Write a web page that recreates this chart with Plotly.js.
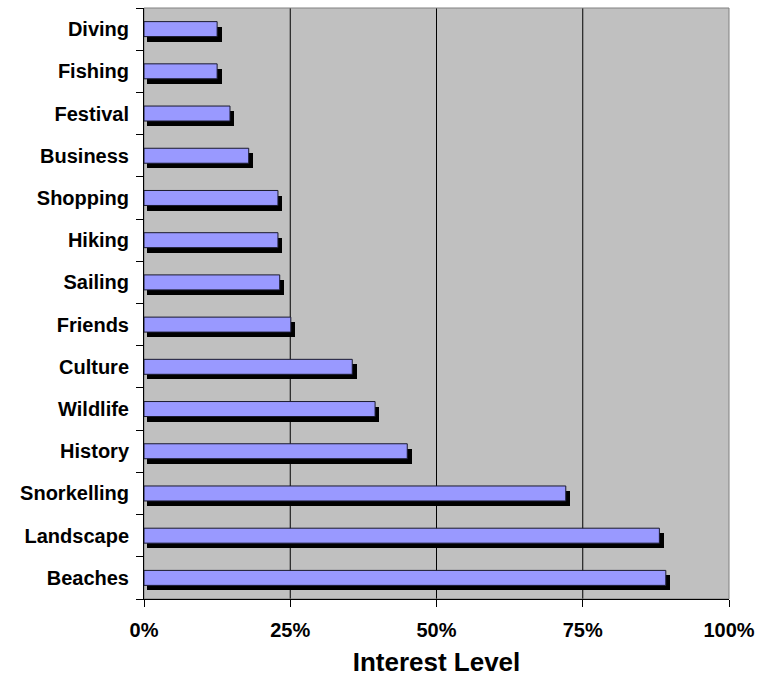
<!DOCTYPE html>
<html>
<head>
<meta charset="utf-8">
<script src="https://cdn.plot.ly/plotly-3.0.1.min.js"></script>
<style>html,body{margin:0;padding:0;background:#fff;}#chart{width:773px;height:677px;}</style>
</head>
<body>
<div id="chart"></div>
<script>
// Categories from bottom to top
const categories = ["Beaches","Landscape","Snorkelling","History","Wildlife","Culture","Friends","Sailing","Hiking","Shopping","Business","Festival","Fishing","Diving"];
const interest = [89.2, 88.1, 72.1, 45.0, 39.5, 35.6, 25.1, 23.2, 22.9, 22.9, 17.9, 14.7, 12.5, 12.5];
const xTickVals = [0, 25, 50, 75, 100];
const xTickText = ["0%", "25%", "50%", "75%", "100%"];
const gridVals = [25, 50, 75];

const barW = 0.355;
const shadowDx = 0.75, shadowBase = 0.5, shadowDy = 0.12;
const font = "Liberation Sans, Arial, sans-serif";

const shadow = {
  type: "bar", orientation: "h",
  y: categories,
  x: interest.map(v => v + shadowDx - shadowBase),
  base: shadowBase,
  width: barW,
  offset: -barW / 2 - shadowDy,
  marker: {color: "#000000", line: {width: 0}},
  hoverinfo: "skip", showlegend: false
};
const front = {
  type: "bar", orientation: "h",
  y: categories,
  x: interest,
  width: barW,
  offset: -barW / 2,
  marker: {color: "#9999FF", line: {color: "#1a1a2e", width: 1}},
  showlegend: false
};

const shapes = gridVals.map(v => ({
  type: "line", xref: "x", yref: "paper", x0: v, x1: v, y0: 0, y1: 1,
  line: {color: "#000000", width: 1}, layer: "below"
}));
shapes.push({type: "rect", xref: "paper", yref: "paper", x0: 0, x1: 1, y0: 0, y1: 1,
  line: {color: "#808080", width: 1}, layer: "below"});

const layout = {
  width: 773, height: 677,
  margin: {l: 144, r: 44, t: 8, b: 78},
  paper_bgcolor: "#ffffff",
  plot_bgcolor: "#C0C0C0",
  barmode: "overlay",
  bargap: 0,
  shapes: shapes,
  xaxis: {
    range: [0, 100], tickvals: xTickVals, ticktext: xTickText,
    showgrid: false, zeroline: false,
    showline: true, linecolor: "#000000", linewidth: 1,
    ticks: "outside", ticklen: 7, tickcolor: "#000000",
    tickfont: {family: font, size: 20, color: "#000000", weight: "bold"},
    ticklabelstandoff: 6,
    title: {text: "<b>Interest Level</b>", font: {family: font, size: 26, color: "#000000"}, standoff: 16},
    fixedrange: true
  },
  yaxis: {
    type: "category",
    categoryorder: "array", categoryarray: categories,
    range: [-0.5, categories.length - 0.5],
    showgrid: false, zeroline: false,
    showline: true, linecolor: "#000000", linewidth: 1,
    ticks: "outside", ticklen: 7, tickcolor: "#000000", tickson: "boundaries",
    tickfont: {family: font, size: 20, color: "#000000", weight: "bold"},
    ticklabelstandoff: 10,
    fixedrange: true
  },
  font: {family: font}
};

Plotly.newPlot("chart", [shadow, front], layout, {staticPlot: true, displayModeBar: false});
</script>
</body>
</html>
